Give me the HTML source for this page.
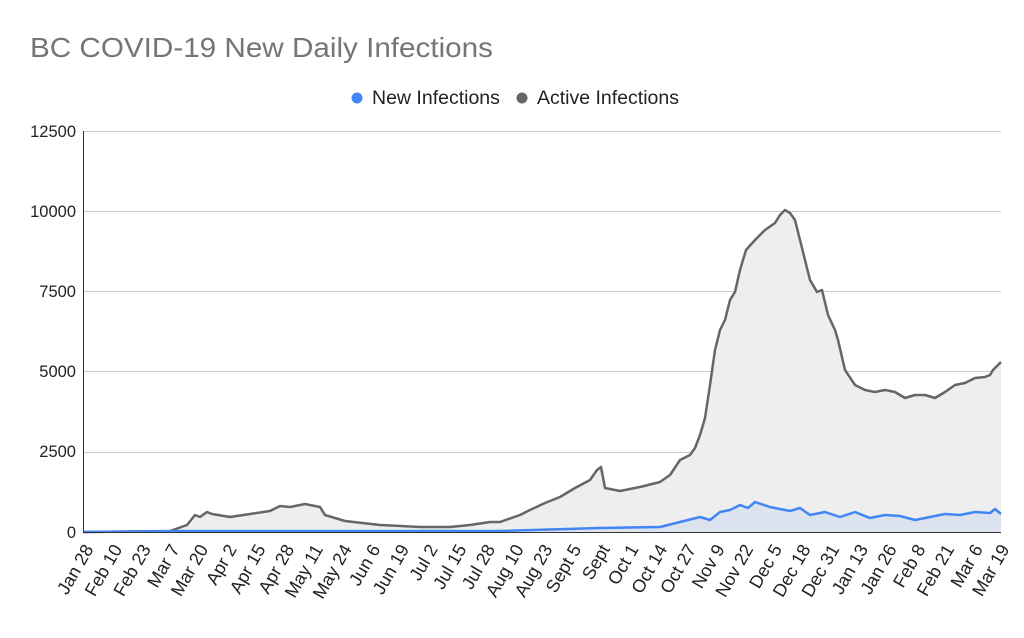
<!DOCTYPE html>
<html><head><meta charset="utf-8"><style>body{margin:0;background:#fff}svg{display:block}</style></head><body>
<svg width="1024" height="638" xmlns="http://www.w3.org/2000/svg" font-family="Liberation Sans, Arial, sans-serif">
<text x="30" y="57" font-size="28" fill="#757575" textLength="463" lengthAdjust="spacingAndGlyphs">BC COVID-19 New Daily Infections</text>
<circle cx="357" cy="98" r="5.5" fill="#4285f4"/>
<text x="372" y="104" font-size="19.5" fill="#222">New Infections</text>
<circle cx="522" cy="98" r="5.5" fill="#666"/>
<text x="537" y="104" font-size="19.5" fill="#222">Active Infections</text>
<g stroke="#ccc" stroke-width="1">
<line x1="83" y1="131.5" x2="1001" y2="131.5"/><line x1="83" y1="211.5" x2="1001" y2="211.5"/><line x1="83" y1="291.5" x2="1001" y2="291.5"/><line x1="83" y1="371.5" x2="1001" y2="371.5"/><line x1="83" y1="452.5" x2="1001" y2="452.5"/>
</g>
<g font-size="16.5" fill="#222" text-anchor="end">
<text x="76" y="137">12500</text><text x="76" y="217">10000</text><text x="76" y="297">7500</text><text x="76" y="377">5000</text><text x="76" y="457">2500</text><text x="76" y="538">0</text>
</g>
<polygon fill="#eeeeee" points="83,532 170,531 187,525 195,515 200,517 207,512 212,514 230,517 250,514 270,511 280,506 290,507 305,504 320,507 325,515 345,521 380,525 420,527 450,527 470,525 490,522 500,522 520,515 530,510 545,503 560,497 575,488 590,480 597,470 601,467 605,488 620,491 640,487 660,482 670,475 680,460 690,455 695,448 700,435 705,418 710,385 715,350 720,330 725,320 730,300 735,292 740,270 746,250 755,240 765,230 775,223 780,215 785,210 790,213 795,220 800,240 805,260 810,280 817,292 822,290 828,315 835,330 838,340 845,370 855,385 865,390 875,392 885,390 895,392 905,398 915,395 925,395 935,398 945,392 955,385 965,383 975,378 985,377 990,375 993,370 1001,362 1001,532"/>
<polyline fill="none" stroke="#666" stroke-width="2.5" stroke-linejoin="round" points="83,532 170,531 187,525 195,515 200,517 207,512 212,514 230,517 250,514 270,511 280,506 290,507 305,504 320,507 325,515 345,521 380,525 420,527 450,527 470,525 490,522 500,522 520,515 530,510 545,503 560,497 575,488 590,480 597,470 601,467 605,488 620,491 640,487 660,482 670,475 680,460 690,455 695,448 700,435 705,418 710,385 715,350 720,330 725,320 730,300 735,292 740,270 746,250 755,240 765,230 775,223 780,215 785,210 790,213 795,220 800,240 805,260 810,280 817,292 822,290 828,315 835,330 838,340 845,370 855,385 865,390 875,392 885,390 895,392 905,398 915,395 925,395 935,398 945,392 955,385 965,383 975,378 985,377 990,375 993,370 1001,362"/>
<polygon fill="#dde3ee" points="83,532 185,531 500,531 600,528 660,527 680,522 700,517 710,520 720,512 730,510 740,505 748,508 755,502 770,507 790,511 800,508 810,515 825,512 840,517 855,512 870,518 885,515 900,516 915,520 930,517 945,514 960,515 975,512 990,513 995,509 1001,514 1001,532"/>
<polyline fill="none" stroke="#4285f4" stroke-width="2.5" stroke-linejoin="round" points="83,532 185,531 500,531 600,528 660,527 680,522 700,517 710,520 720,512 730,510 740,505 748,508 755,502 770,507 790,511 800,508 810,515 825,512 840,517 855,512 870,518 885,515 900,516 915,520 930,517 945,514 960,515 975,512 990,513 995,509 1001,514"/>
<line x1="83" y1="532.5" x2="1001" y2="532.5" stroke="#333" stroke-width="1"/>
<line x1="83.5" y1="131" x2="83.5" y2="533" stroke="#333" stroke-width="1"/>
<g font-size="18" fill="#222" text-anchor="end">
<text transform="translate(94,549) rotate(-60)">Jan 28</text><text transform="translate(122.7,549) rotate(-60)">Feb 10</text><text transform="translate(151.4,549) rotate(-60)">Feb 23</text><text transform="translate(180.1,549) rotate(-60)">Mar 7</text><text transform="translate(208.8,549) rotate(-60)">Mar 20</text><text transform="translate(237.4,549) rotate(-60)">Apr 2</text><text transform="translate(266.1,549) rotate(-60)">Apr 15</text><text transform="translate(294.8,549) rotate(-60)">Apr 28</text><text transform="translate(323.5,549) rotate(-60)">May 11</text><text transform="translate(352.2,549) rotate(-60)">May 24</text><text transform="translate(380.9,549) rotate(-60)">Jun 6</text><text transform="translate(409.6,549) rotate(-60)">Jun 19</text><text transform="translate(438.3,549) rotate(-60)">Jul 2</text><text transform="translate(467,549) rotate(-60)">Jul 15</text><text transform="translate(495.6,549) rotate(-60)">Jul 28</text><text transform="translate(524.3,549) rotate(-60)">Aug 10</text><text transform="translate(553,549) rotate(-60)">Aug 23</text><text transform="translate(581.7,549) rotate(-60)">Sept 5</text><text transform="translate(610.4,549) rotate(-60)">Sept</text><text transform="translate(639.1,549) rotate(-60)">Oct 1</text><text transform="translate(667.8,549) rotate(-60)">Oct 14</text><text transform="translate(696.5,549) rotate(-60)">Oct 27</text><text transform="translate(725.2,549) rotate(-60)">Nov 9</text><text transform="translate(753.8,549) rotate(-60)">Nov 22</text><text transform="translate(782.5,549) rotate(-60)">Dec 5</text><text transform="translate(811.2,549) rotate(-60)">Dec 18</text><text transform="translate(839.9,549) rotate(-60)">Dec 31</text><text transform="translate(868.6,549) rotate(-60)">Jan 13</text><text transform="translate(897.3,549) rotate(-60)">Jan 26</text><text transform="translate(926,549) rotate(-60)">Feb 8</text><text transform="translate(954.7,549) rotate(-60)">Feb 21</text><text transform="translate(983.4,549) rotate(-60)">Mar 6</text><text transform="translate(1010,549) rotate(-60)">Mar 19</text>
</g>
</svg>
</body></html>
